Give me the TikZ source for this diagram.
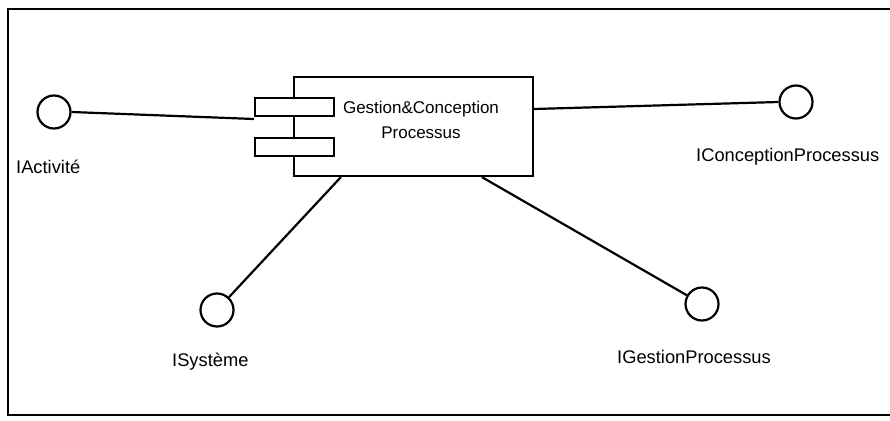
\documentclass[tikz,border=0pt]{standalone}
\usepackage{fontspec}
\setmainfont{Liberation Sans}
\begin{document}
\begin{tikzpicture}[x=1pt,y=-1pt,
  lbl/.style={font=\fontsize{18.3}{22}\selectfont, inner sep=0pt},
  iface/.style={circle, draw, line width=2.2pt, minimum size=33pt, inner sep=0pt},
  conn/.style={line width=2.2pt},
  port/.style={draw, line width=2.2pt, fill=white, minimum width=79pt, minimum height=18pt, inner sep=0pt},
  frame/.style={line width=2.4pt}
]
\useasboundingbox (0,0) rectangle (890,420);
% frame
\draw[frame] (890,9) -- (8,9) -- (8,415) -- (890,415);
% component
\node[draw, line width=2.2pt, minimum width=239pt, minimum height=99pt, inner sep=0pt] (comp) at (413.5,126.5) {};
\node[port] (p1) at (294.5,107) {};
\node[port] (p2) at (294.5,147) {};
\node[lbl, align=center, font=\fontsize{17}{25}\selectfont] (ct) at (421,120) {Gestion\&Conception\\Processus};
% interfaces
\node[iface] (ia) at (54,112) {};
\node[iface] (ic) at (796,102) {};
\node[iface] (is) at (217,310) {};
\node[iface] (ig) at (702,304) {};
% labels
\node[lbl, anchor=west] (la) at (16,167) {IActivité};
\node[lbl, anchor=west] (lc) at (696,157) {IConceptionProcessus};
\node[lbl, anchor=west] (ls) at (172,362) {ISystème};
\node[lbl, anchor=west] (lg) at (617,357) {IGestionProcessus};
% connectors
\coordinate (ca) at (254,119);
\draw[conn] (ia.east) -- (ca);
\draw[conn] (comp.east |- 0,109) -- (ic.west);
\draw[conn] ([xshift=48pt]comp.south west) -- (is);
\draw[conn] ([xshift=189pt]comp.south west) -- (ig);
\end{tikzpicture}
\end{document}
